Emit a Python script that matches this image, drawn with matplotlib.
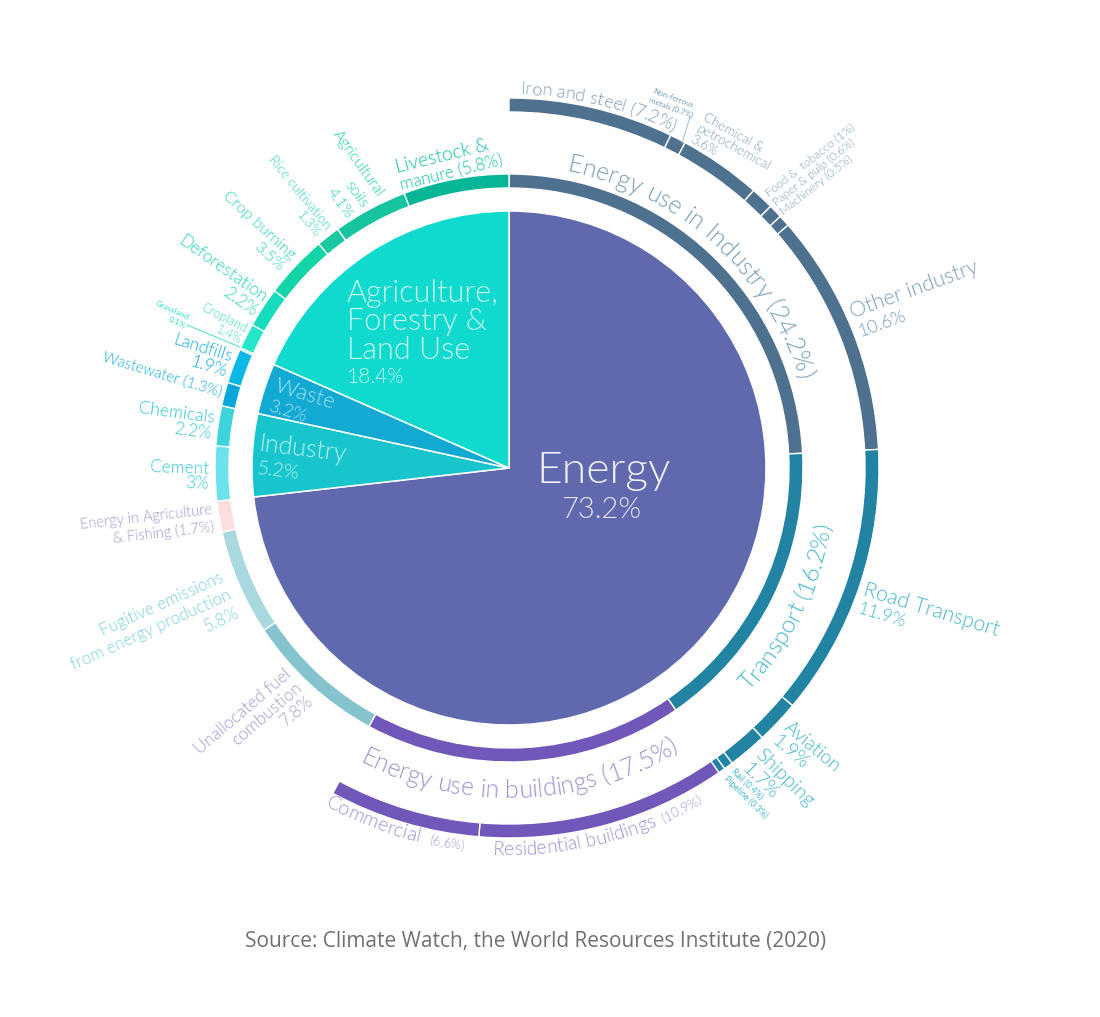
import numpy as np
import matplotlib
matplotlib.use('Agg')
import matplotlib.pyplot as plt
from matplotlib import font_manager
from matplotlib.font_manager import FontProperties
from matplotlib.ft2font import FT2Font

W, H = 1100, 1017
CX, CY = 509, 468          # centre of the pie, in image pixels (y down)

# inner pie: sectors
main_names = ['Energy', 'Industry', 'Waste', 'Agriculture, Forestry & Land Use']
main_values = [73.2, 5.2, 3.2, 18.4]
main_colors = ['#6069ae', '#19c5cc', '#12a9d3', '#0fdacd']

# middle ring: sub-sectors
ring_names = ['Energy use in Industry', 'Transport', 'Energy use in buildings',
              'Unallocated fuel combustion', 'Fugitive emissions', 'Energy in Agriculture & Fishing',
              'Cement', 'Chemicals', 'Wastewater', 'Landfills', 'Grassland', 'Cropland',
              'Deforestation', 'Crop burning', 'Rice cultivation', 'Agricultural soils',
              'Livestock & manure']
ring_values = [24.2, 16.2, 17.5, 7.8, 5.8, 1.7, 3.0, 2.2, 1.3, 1.9, 0.1, 1.4,
               2.2, 3.5, 1.3, 4.1, 5.8]
ring_colors = ['#4f7190', '#2283a3', '#7157b9', '#86c4cd', '#a9d9df', '#fddede',
               '#6ce3ea', '#3dd4dc', '#07a7d9', '#0bb8e6', '#22d3c5', '#25e6c8',
               '#15dcba', '#12d6a8', '#1ac9a2', '#17c4a0', '#07b597']

# outer ring: energy use broken down further
outer_names = ['Iron and steel', 'Non-ferrous metals', 'Chemical & petrochemical',
               'Food & tobacco', 'Paper & pulp', 'Machinery', 'Other industry',
               'Road Transport', 'Aviation', 'Shipping', 'Rail', 'Pipeline',
               'Residential buildings', 'Commercial']
outer_values = [7.2, 0.7, 3.6, 1.0, 0.6, 0.5, 10.6, 11.9, 1.9, 1.7, 0.4, 0.3, 10.9, 6.6]
outer_colors = ['#4f7190'] * 7 + ['#2283a3'] * 5 + ['#7157b9'] * 2


def lato(fname, fallback_weight):
    for f in font_manager.fontManager.ttflist:
        if f.fname.endswith(fname):
            return FontProperties(fname=f.fname)
    return FontProperties(family='Lato', weight=fallback_weight)


LIGHT = lato('Lato-Light.ttf', 300)
REG = lato('Lato-Regular.ttf', 400)
SRC = FontProperties(family=['Open Sans', 'Lato', 'DejaVu Sans'])

fig = plt.figure(figsize=(W / 100, H / 100), dpi=100)
ax = fig.add_axes([0, 0, 1, 1])
centre = (CX, H - CY)

ax.pie(main_values, colors=main_colors, radius=257, center=centre, startangle=90,
       counterclock=False, wedgeprops=dict(edgecolor='white', linewidth=1.1))
ax.pie(ring_values, colors=ring_colors, radius=294, center=centre, startangle=90,
       counterclock=False, wedgeprops=dict(width=14, edgecolor='white', linewidth=1))
ax.pie(np.array(outer_values) / 100, normalize=False, colors=outer_colors, radius=370,
       center=centre, startangle=90, counterclock=False,
       wedgeprops=dict(width=14, edgecolor='white', linewidth=1))

ax.set_xlim(0, W)
ax.set_ylim(0, H)
ax.set_aspect('equal')
ax.axis('off')


def fp(prop, size):
    p = prop.copy()
    p.set_size(size)
    return p


def advances(s, prop):
    f = FT2Font(font_manager.findfont(prop))
    f.set_size(10, 100)
    return np.array([f.load_char(ord(c)).linearHoriAdvance / 65536 for c in s])


def arc_text(s, r, t0, t1, color, inward=False, prop=LIGHT):
    # angles in degrees clockwise from 12 o'clock, text squeezed between t0 and t1
    adv = advances(s, prop)
    fs = 10 * np.radians(abs(t1 - t0)) * r / adv.sum()
    adv = adv * fs / 10
    pos = np.cumsum(adv) - adv / 2
    sign = -1 if inward else 1
    for ch, p in zip(s, pos):
        t = np.radians(t0) + sign * p / r
        rot = 180 - np.degrees(t) if inward else -np.degrees(t)
        ax.text(CX + r * np.sin(t), H - CY + r * np.cos(t), ch, color=color,
                fontproperties=fp(prop, fs), rotation=rot, rotation_mode='anchor',
                ha='center', va='baseline')


def label(lines, start, end, color, ha='right', gap=1.0, sub=1.0, prop=LIGHT):
    # start/end: baseline ends of the first line in image pixels
    (x0, y0), (x1, y1) = start, end
    rot = np.degrees(np.arctan2(y0 - y1, x1 - x0))
    fs = 10 * np.hypot(x1 - x0, y1 - y0) / advances(lines[0], prop).sum()
    bx, by = (x0, H - y0) if ha == 'left' else (x1, H - y1)
    r = np.radians(rot)
    step = gap * fs * 100 / 72
    for i, s in enumerate(lines):
        size = fs if i == 0 else fs * sub
        ax.text(bx + i * step * np.sin(r), by - i * step * np.cos(r), s, color=color,
                fontproperties=fp(prop, size), rotation=rot, rotation_mode='anchor',
                ha=ha, va='baseline')


# text inside the pie
ax.text(604, H - 483, 'Energy', color='#f2f2fa', fontproperties=fp(LIGHT, 32), ha='center', va='baseline')
ax.text(601, H - 518, '73.2%', color='#e6e6f4', fontproperties=fp(LIGHT, 21), ha='center', va='baseline')
agri_col = '#c8f6f1'
for s, yb, fs in [('Agriculture,', 302, 22), ('Forestry &', 330, 22), ('Land Use', 359, 22), ('18.4%', 383, 15)]:
    ax.text(347, H - yb, s, color=agri_col, fontproperties=fp(LIGHT, fs), ha='left', va='baseline')
ax.text(273, H - 391, 'Waste', color='#a6e3f3', fontproperties=fp(LIGHT, 16), rotation=-17,
        rotation_mode='anchor', ha='left', va='baseline')
ax.text(268, H - 411, '3.2%', color='#a6e3f3', fontproperties=fp(LIGHT, 13), rotation=-17,
        rotation_mode='anchor', ha='left', va='baseline')
ax.text(258, H - 451, 'Industry', color='#b4eff0', fontproperties=fp(LIGHT, 18), rotation=-7,
        rotation_mode='anchor', ha='left', va='baseline')
ax.text(257, H - 474, '5.2%', color='#b4eff0', fontproperties=fp(LIGHT, 14), rotation=-7,
        rotation_mode='anchor', ha='left', va='baseline')

# curved labels
ind_col, tr_col, bld_col = '#7a9db3', '#45b7cc', '#a08fd0'
arc_text('Energy use in Industry (24.2%)', 302, 11, 73, '#7a9db3')
arc_text('Transport (16.2%)', 327, 133, 100, '#45b7cc', inward=True)
arc_text('Energy use in buildings (17.5%)', 330, 207, 149, '#a08fd0', inward=True)
arc_text('Iron and steel (7.2%)', 374, 1.7, 26, ind_col)
arc_text('Residential buildings', 387, 182.4, 157.6, bld_col, inward=True)
arc_text('(10.9%)', 387, 156.5, 150, bld_col, inward=True)
arc_text('Commercial', 385, 208.6, 193.6, bld_col, inward=True)
arc_text('(6.6%)', 385, 192.1, 186.9, bld_col, inward=True)

# straight labels, right side
label(['Non-ferrous', 'metals (0.7%)'], (652, 93), (692, 108), ind_col, ha='left', gap=1.2, prop=REG)
ax.plot([690, 682], [H - 117, H - 143], color='#a9c2d2', lw=0.8)
label(['Chemical &', 'petrochemical', '3.6%'], (702, 120), (760, 152), ind_col, ha='left', gap=0.95)
label(['Food &  tobacco (1%)', 'Paper & pulp (0.6%)', 'Machinery (0.5%)'], (769, 197), (855, 129),
      ind_col, ha='left', gap=1.0)
label(['Other industry', '10.6%'], (853, 318), (980, 272), ind_col, ha='left', gap=0.95, sub=0.85)
label(['Road Transport', '11.9%'], (862, 595), (997, 636), tr_col, ha='left', gap=0.9, sub=0.85)
label(['Aviation', '1.9%'], (783, 729), (835, 773), tr_col, ha='left', gap=0.95)
label(['Shipping', '1.7%'], (754, 756), (807, 808), tr_col, ha='left', gap=0.95)
label(['Rail (0.4%)', 'Pipeline (0.3%)'], (731, 772), (760, 800), tr_col, ha='left', gap=1.2, prop=REG)

# straight labels, left side
afolu_col, waste_col, indu_col = '#2cd3bd', '#15ade0', '#34c6d6'
label(['Livestock &', 'manure (5.8%)'], (397, 173), (490, 150), '#12c0a8', ha='left', gap=0.9, sub=0.88)
label(['Agricultural', 'soils', '4.1%'], (332, 135), (377, 198), '#1fcfae', gap=1.2)
label(['Rice cultivation', '1.3%'], (268, 160), (325, 230), afolu_col, gap=1.0)
label(['Crop burning', '3.5%'], (222, 197), (290, 260), afolu_col, gap=1.0)
label(['Deforestation', '2.2%'], (177, 243), (262, 303), afolu_col, gap=0.95)
label(['Cropland', '1.4%'], (200, 310), (245, 333), '#3ddcc8', gap=1.0)
label(['Grassland', '0.1%'], (155, 305), (188, 320), '#3ddcc8', gap=1.1, prop=REG)
ax.plot([187, 240], [H - 325, H - 347], color='#5fe2d2', lw=0.8)
label(['Landfills', '1.9%'], (172, 344), (230, 362), waste_col, gap=0.9)
label(['Wastewater (1.3%)'], (101, 361), (220, 397), waste_col)
label(['Chemicals', '2.2%'], (138, 413), (214, 423), indu_col, gap=0.9)
label(['Cement', '3%'], (150, 472), (209, 474), indu_col, gap=0.85)
label(['Energy in Agriculture', '& Fishing (1.7%)'], (82, 529), (213, 514), '#a597c9', gap=1.2)
label(['Fugitive emissions', 'from energy production', '5.8%'], (102, 636), (224, 581), '#7fd0dc', gap=1.15)
label(['Unallocated fuel', 'combustion', '7.8%'], (200, 755), (292, 676), '#a99bd0', gap=1.0)

src = 'Source: Climate Watch, the World Resources Institute (2020)'
ax.text(536, H - 942, src, color='#707070', ha='center', va='center',
        fontproperties=fp(SRC, 10 * 581 / advances(src, SRC).sum()))

fig.savefig('out.png', dpi=100, facecolor='white')
